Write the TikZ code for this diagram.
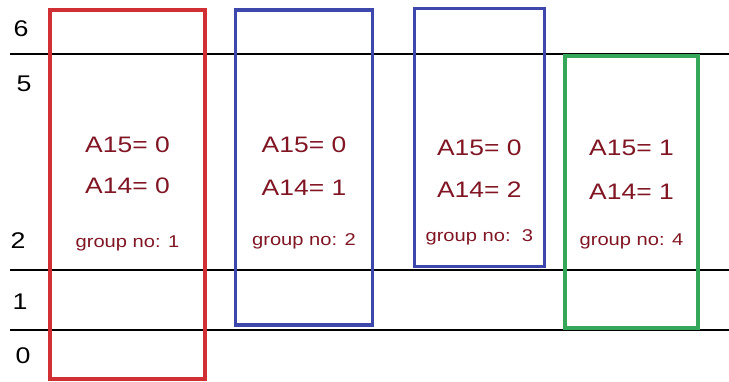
\documentclass[tikz,border=0pt]{standalone}
\usepackage{fontspec}
\setmainfont{Liberation Sans}[FakeStretch=1.18]
\usepackage{xcolor}
\usepackage{tikz}
\usetikzlibrary{positioning}
\definecolor{boxred}{RGB}{208,48,52}
\definecolor{boxblue}{RGB}{62,72,172}
\definecolor{boxgreen}{RGB}{52,168,88}
\definecolor{textred}{RGB}{128,22,36}
\tikzset{
  grpbox/.style={rectangle, line width=2.3pt, inner sep=0pt, fill=none},
  level/.style={font=\fontsize{17}{19}\selectfont, inner sep=0pt},
  addr/.style={font=\fontsize{16.8}{19}\selectfont, text=textred, anchor=base, inner sep=0pt},
  grpno/.style={font=\fontsize{12.8}{15}\selectfont, text=textred, anchor=base, inner sep=0pt},
  rule/.style={line width=0.8pt, black}
}

\begin{document}
\begin{tikzpicture}[x=0.75pt, y=-0.75pt]
\useasboundingbox (0,0) rectangle (729,382);

% level lines
\draw[rule] (10,54) -- (729,54);
\draw[rule] (10,270) -- (729,270);
\draw[rule] (10,330) -- (729,330);

% level numbers
\node[level] (l6) at (21,29) {6};
\node[level] (l5) at (24,84) {5};
\node[level] (l2) at (18,241) {2};
\node[level] (l1) at (20,302) {1};
\node[level] (l0) at (23,356) {0};

% groups
\node[grpbox, draw=boxred, minimum width=116.25pt, minimum height=276.75pt] (g1) at (127.5,194.5) {};
\node[grpbox, draw=boxblue, minimum width=103.1pt, minimum height=236.25pt] (g2) at (304,167.5) {};
\node[grpbox, draw=boxblue, minimum width=97.5pt, minimum height=193.3pt] (g3) at (479.3,137.2) {};
\node[grpbox, draw=boxgreen, minimum width=99.75pt, minimum height=204pt] (g4) at (631.5,192) {};

\node[addr] (a15g1) at (g1.center |- 0,152) {A15= 0};
\node[addr] (a14g1) at (g1.center |- 0,193) {A14= 0};
\node[grpno] (n1) at (g1.center |- 0,247) {group no: 1};

\node[addr] (a15g2) at (g2.center |- 0,152) {A15= 0};
\node[addr] (a14g2) at (g2.center |- 0,195) {A14= 1};
\node[grpno] (n2) at (g2.center |- 0,245) {group no: 2};

\node[addr] (a15g3) at (g3.center |- 0,155) {A15= 0};
\node[addr] (a14g3) at (g3.center |- 0,197) {A14= 2};
\node[grpno] (n3) at (g3.center |- 0,241) {group no:\ \ 3};

\node[addr] (a15g4) at (g4.center |- 0,155) {A15= 1};
\node[addr] (a14g4) at (g4.center |- 0,199) {A14= 1};
\node[grpno] (n4) at (g4.center |- 0,245) {group no: 4};
\end{tikzpicture}
\end{document}
